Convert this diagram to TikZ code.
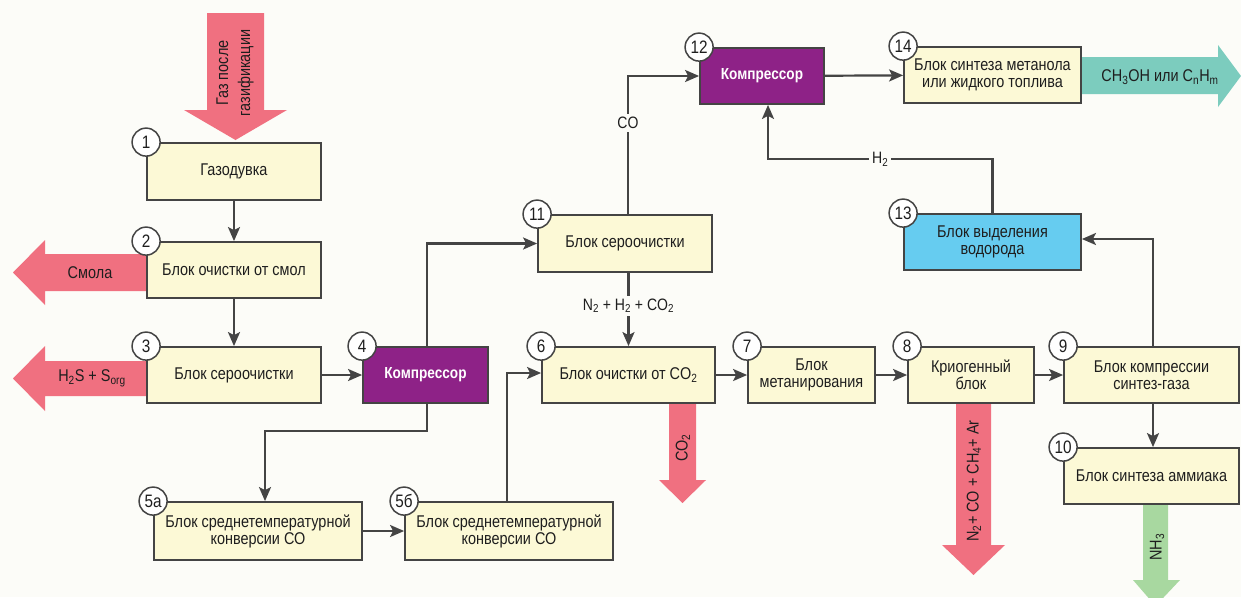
\documentclass[tikz,border=0pt]{standalone}
\usepackage{fontspec}
\setmainfont{Liberation Sans}[FakeStretch=0.85]
\usetikzlibrary{arrows.meta,calc}
\definecolor{bg}{RGB}{252,252,248}
\definecolor{cream}{RGB}{252,249,214}
\definecolor{purp}{RGB}{142,34,135}
\definecolor{lblue}{RGB}{102,204,240}
\definecolor{pinkr}{RGB}{240,112,128}
\definecolor{teal2}{RGB}{124,204,190}
\definecolor{lgreen}{RGB}{168,216,160}
\definecolor{lc}{RGB}{68,68,68}
\definecolor{txt}{RGB}{30,30,30}
\newcommand\subs[1]{\textsubscript{#1}}
\tikzset{
  blk/.style={draw=lc, line width=1.8pt, fill=cream, inner sep=0pt, align=center,
    text=txt, font=\fontsize{17}{17}\selectfont},
  comp/.style={blk, fill=purp, text=white, font=\bfseries\fontsize{16}{17}\selectfont},
  blue/.style={blk, fill=lblue},
  num/.style={circle, draw=lc, line width=1.5pt, fill=white, minimum size=28pt,
    inner sep=0pt, text=txt, font=\fontsize{18}{18}\selectfont},
  arr/.style={draw=lc, line width=2.2pt, -{Stealth[length=14pt,width=12pt,inset=3pt]}},
  lab/.style={fill=bg, inner sep=3pt, text=txt, font=\fontsize{16.5}{16.5}\selectfont},
  bigtxt/.style={text=txt, font=\fontsize{17}{22}\selectfont, align=center, inner sep=0pt},
}
\begin{document}
\begin{tikzpicture}[x=1pt,y=-1pt]
\fill[bg] (0,0) rectangle (1241,597);
\useasboundingbox (0,0) rectangle (1241,597);
\clip (0,0) rectangle (1241,597);

% big flow arrows
\fill[pinkr] (207,13) -- (264,13) -- (264,110) -- (287,110) -- (235.5,140) -- (184,110) -- (207,110) -- cycle;
\fill[pinkr] (148,254) -- (45,254) -- (45,240) -- (13,272.5) -- (45,305) -- (45,291) -- (148,291) -- cycle;
\fill[pinkr] (148,361) -- (45,361) -- (45,346) -- (13,378.5) -- (45,411) -- (45,396) -- (148,396) -- cycle;
\fill[pinkr] (669,403) -- (696,403) -- (696,480) -- (706,480) -- (682.5,503) -- (659,480) -- (669,480) -- cycle;
\fill[pinkr] (956,403) -- (991,403) -- (991,545) -- (1005,545) -- (973.5,575) -- (942,545) -- (956,545) -- cycle;
\fill[lgreen] (1143,504) -- (1168,504) -- (1168,580) -- (1180,580) -- (1155.5,606) -- (1133,580) -- (1143,580) -- cycle;
\fill[teal2] (1081,57) -- (1218,57) -- (1218,45) -- (1241,76) -- (1218,107) -- (1218,94) -- (1081,94) -- cycle;

\node[bigtxt, rotate=90] (tgas) at (235,73) {Газ после\\газификации};
\node[bigtxt] (tsm) at (90,273) {Смола};
\node[bigtxt] (th2s) at (92,378) {H\subs{2}S + S\subs{org}};
\node[bigtxt, rotate=90] (tco2) at (683,448) {CO\subs{2}};
\node[bigtxt, rotate=90] (tn2) at (974,481) {N\subs{2}+ CO + CH\subs{4}+ Ar};
\node[bigtxt, rotate=90] (tnh3) at (1157,547) {NH\subs{3}};
\node[bigtxt] (tch) at (1160,77) {CH\subs{3}OH или C\subs{n}H\subs{m}};

% blocks
\node[blk, minimum width=174pt, minimum height=57pt] (b1) at (234,171.5) {Газодувка};
\node[blk, minimum width=174pt, minimum height=56pt] (b2) at (234,270) {Блок очистки от смол};
\node[blk, minimum width=174pt, minimum height=56pt] (b3) at (234,375) {Блок сероочистки};
\node[comp, minimum width=125pt, minimum height=56pt] (b4) at (425.5,375) {Компрессор};
\node[blk, minimum width=208pt, minimum height=58pt] (b5a) at (258,531) {Блок среднетемпературной\\конверсии СО};
\node[blk, minimum width=208pt, minimum height=58pt] (b5b) at (509,531) {Блок среднетемпературной\\конверсии СО};
\node[blk, minimum width=173pt, minimum height=56pt] (b6) at (628.5,375) {Блок очистки от CO\subs{2}};
\node[blk, minimum width=127pt, minimum height=56pt] (b7) at (811.5,375) {Блок\\метанирования};
\node[blk, minimum width=126pt, minimum height=56pt] (b8) at (971,375) {Криогенный\\блок};
\node[blk, minimum width=175pt, minimum height=56pt] (b9) at (1151.5,375) {Блок компрессии\\синтез-газа};
\node[blk, minimum width=175pt, minimum height=56pt] (b10) at (1151.5,476) {Блок синтеза аммиака};
\node[blk, minimum width=174pt, minimum height=57pt] (b11) at (625,243.5) {Блок сероочистки};
\node[comp, minimum width=124pt, minimum height=56pt] (b12) at (762,76) {Компрессор};
\node[blue, minimum width=177pt, minimum height=56pt] (b13) at (992.5,242) {Блок выделения\\водорода};
\node[blk, minimum width=177pt, minimum height=56pt] (b14) at (992.5,75) {Блок синтеза метанола\\или жидкого топлива};

% connectors
\draw[arr] (b1) -- (b2);
\draw[arr] (b2) -- (b3);
\draw[arr] (b3) -- (b4);
\draw[arr] ([xshift=1.5pt]b4.north) |- (b11.west);
\draw[arr] ([xshift=1.5pt]b4.south) -- ++(0,27) -| ([xshift=7pt]b5a.north);
\draw[arr] (b5a) -- (b5b);
\draw[arr] ([xshift=-2pt]b5b.north) |- ([yshift=2pt]b6.west);
\draw[arr] (b6) -- (b7);
\draw[arr] (b7) -- (b8);
\draw[arr] (b8) -- (b9);
\draw[arr] ([xshift=1.5pt]b9.south) -- ([xshift=1.5pt]b10.north);
\draw[arr] ([xshift=1.5pt]b9.north) |- ([yshift=3pt]b13.east);
\draw[arr] (b11.south -| b6.north) -- node[lab, pos=0.45] {N\subs{2} + H\subs{2} + CO\subs{2}} (b6.north);
\draw[arr] ([xshift=3pt]b11.north) |- node[lab, pos=0.33] {CO} (b12.west);
\draw[arr] (b12) -- (b14);
\draw[arr] (b13.north) -- ++(0,-54) -| node[lab, pos=0.25] {H\subs{2}} ([xshift=6pt]b12.south);

% numbers
\node[num] (n1) at (b1.north west) {1};
\node[num] (n2) at (b2.north west) {2};
\node[num] (n3) at (b3.north west) {3};
\node[num] (n4) at (b4.north west) {4};
\node[num] (n5a) at (b5a.north west) {5а};
\node[num] (n5b) at (b5b.north west) {5б};
\node[num] (n6) at (b6.north west) {6};
\node[num] (n7) at (b7.north west) {7};
\node[num] (n8) at (b8.north west) {8};
\node[num] (n9) at (b9.north west) {9};
\node[num] (n10) at (b10.north west) {10};
\node[num] (n11) at (b11.north west) {11};
\node[num] (n12) at (b12.north west) {12};
\node[num] (n13) at (b13.north west) {13};
\node[num] (n14) at (b14.north west) {14};
\end{tikzpicture}
\end{document}
